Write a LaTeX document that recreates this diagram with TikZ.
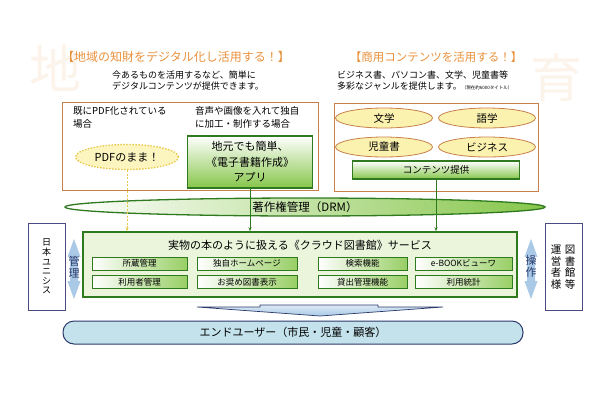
\documentclass[tikz,border=0pt]{standalone}
\usepackage{fontspec}
\setmainfont{Noto Sans CJK JP}
\usepackage{xcolor}
\usepackage{tikz}
\usetikzlibrary{arrows.meta, positioning, shapes.geometric, shapes.arrows}
\definecolor{titleorange}{HTML}{E8913C}
\definecolor{boxframe}{HTML}{C8804A}
\definecolor{darkgreen}{HTML}{2F7A1F}
\definecolor{midgreen}{HTML}{86C64A}
\definecolor{palegreen}{HTML}{EAF5DC}
\definecolor{genrefill}{HTML}{FBF2B0}
\definecolor{pdfline}{HTML}{E8C84A}
\definecolor{userfill}{HTML}{C4E2EC}
\definecolor{navy}{HTML}{2B3A6B}
\definecolor{sideframe}{HTML}{4B4B82}
\definecolor{flowblue}{HTML}{A9C9E6}

\begin{document}
\begin{tikzpicture}[x=1pt, y=-1pt,
    every node/.style={font=\fontsize{9}{10}\selectfont},
    areabox/.style={
        rectangle, draw=boxframe, line width=1pt, inner sep=0pt,
    },
    genre/.style={
        ellipse, draw=boxframe, line width=0.8pt, fill=genrefill,
        minimum width=97pt, minimum height=20pt, inner sep=0pt,
        font=\fontsize{10.5}{12}\selectfont,
    },
    greenbox/.style={
        rectangle, draw=darkgreen, line width=1.3pt,
        top color=white, bottom color=midgreen, inner sep=0pt,
    },
    funcbtn/.style={
        rectangle, draw=darkgreen, line width=1pt,
        left color=white, right color=midgreen!85,
        minimum height=13pt, inner sep=0pt,
        font=\fontsize{8.5}{9}\selectfont,
    },
    feed/.style={
        draw=darkgreen, line width=0.8pt,
        -{Stealth[length=4pt, width=3pt]},
    },
    sidebox/.style={
        rectangle, draw=sideframe, line width=0.8pt,
        minimum width=37pt, minimum height=87pt,
    },
    vtext/.style={
        align=center, inner sep=0pt,
    },
    twoway/.style={
        double arrow, rotate=90, fill=flowblue, draw=none,
        minimum height=60pt, minimum width=13pt, inner xsep=0pt, inner ysep=3pt,
        double arrow head extend=2pt, double arrow tip angle=40,
    },
]
\useasboundingbox (0,0) rectangle (610,400);

% ── Faint backdrop letters ─────────────────────────────────────────────
\node[text=titleorange!11, font=\fontsize{52}{52}\selectfont] (wmleft) at (55,68) {地};
\node[text=titleorange!11, font=\fontsize{52}{52}\selectfont] (wmright) at (556,78) {育};

% ── Headings ───────────────────────────────────────────────────────────
\node[text=titleorange, font=\fontsize{12}{14}\selectfont] (localtitle) at (176,57)
    {【地域の知財をデジタル化し活用する！】};
\node[align=left, anchor=west, inner sep=0pt] (localnote) at (112,81)
    {今あるものを活用するなど、簡単に\\[1pt]デジタルコンテンツが提供できます。};
\node[text=titleorange, font=\fontsize{11.5}{14}\selectfont] (bizttitle) at (436,57)
    {【商用コンテンツを活用する！】};
\node[align=left, anchor=west, inner sep=0pt] (biznote) at (337,81)
    {ビジネス書、パソコン書、文学、児童書等\\[1pt]多彩なジャンルを提供します。{\fontsize{4.5}{5}\selectfont （現在約6000タイトル）}};

% ── Local content area ─────────────────────────────────────────────────
\node[areabox, minimum width=256pt, minimum height=88pt] (localarea) at (190,146) {};
\node[anchor=north west, align=left, inner sep=0pt, font=\fontsize{9.5}{13}\selectfont]
    (pdfcase) at (73,106) {既にPDF化されている\\場合};
\node[anchor=north west, align=left, inner sep=0pt, font=\fontsize{9.5}{13}\selectfont]
    (makecase) at (195,106) {音声や画像を入れて独自\\に加工・制作する場合};
\node[ellipse, draw=pdfline, line width=1.3pt, dash pattern=on 1.5pt off 1.5pt,
    fill=genrefill!80, minimum width=103pt, minimum height=25pt, inner sep=0pt,
    font=\fontsize{11}{12}\selectfont] (pdfasis) at (127,157) {PDFのまま！};
\node[greenbox, minimum width=125pt, minimum height=52pt, align=center,
    font=\fontsize{11}{15.5}\selectfont] (appbox) at (250,162)
    {地元でも簡単、\\《電子書籍作成》\\アプリ};

% ── Commercial content area ────────────────────────────────────────────
\node[areabox, minimum width=204pt, minimum height=88pt] (bizarea) at (436,147) {};
\node[genre] (literature) at (384,118) {文学};
\node[genre] (language) at (487,118) {語学};
\node[genre] (children) at (384,147) {児童書};
\node[genre] (business) at (487,147) {ビジネス};
\node[greenbox, minimum width=167pt, minimum height=18pt,
    font=\fontsize{9.5}{11}\selectfont] (supply) at (436,170) {コンテンツ提供};

% ── DRM band ───────────────────────────────────────────────────────────
\node[ellipse, draw=darkgreen, line width=1.3pt, left color=white, right color=midgreen,
    minimum width=480pt, minimum height=18pt, inner sep=0pt,
    font=\fontsize{11.5}{12}\selectfont] (drm) at (305,207) {著作権管理（DRM）};

% ── Cloud library service ──────────────────────────────────────────────
\node[rectangle, draw=darkgreen, line width=1.5pt, fill=palegreen,
    minimum width=434pt, minimum height=65pt] (service) at (300,264.5) {};
\node[font=\fontsize{11}{12}\selectfont] (servicetitle) at (300,245)
    {実物の本のように扱える《クラウド図書館》サービス};
\node[funcbtn, minimum width=95pt] (holdings) at (139.5,263.5) {所蔵管理};
\node[funcbtn, minimum width=100pt] (homepage) at (247,263.5) {独自ホームページ};
\node[funcbtn, minimum width=89pt] (search) at (362.5,263.5) {検索機能};
\node[funcbtn, minimum width=97pt] (viewer) at (463.5,263.5) {e-BOOKビューワ};
\node[funcbtn, minimum width=95pt] (users) at (139.5,282) {利用者管理};
\node[funcbtn, minimum width=100pt] (recommend) at (247,282) {お奨め図書表示};
\node[funcbtn, minimum width=89pt] (lending) at (362.5,282) {貸出管理機能};
\node[funcbtn, minimum width=97pt] (stats) at (463.5,282) {利用統計};

% ── Feeds into the service ─────────────────────────────────────────────
\draw[feed, draw=pdfline, dash pattern=on 2pt off 1.5pt] (pdfasis.south)
    -- (pdfasis.south |- service.north);
\draw[feed] (appbox.south) -- (appbox.south |- service.north);
\draw[feed] (supply.south) -- (supply.south |- service.north);

% ── Side parties ───────────────────────────────────────────────────────
\node[sidebox] (unisys) at (46.5,266.5) {};
\node[vtext, font=\fontsize{9}{9.6}\selectfont] (unisystext) at (unisys.center)
    {日\\本\\ユ\\ニ\\シ\\ス};
\node[twoway] (managearrow) at (74,269) {};
\node[vtext, text=navy, font=\fontsize{11}{12}\selectfont] (manage) at (74,267) {管\\理};

\node[sidebox] (operator) at (563.5,266.5) {};
\node[vtext, font=\fontsize{10.5}{11.5}\selectfont] (operatorright) at (570,267) {図\\書\\館\\等};
\node[vtext, font=\fontsize{10.5}{11.5}\selectfont] (operatorleft) at (556,267) {運\\営\\者\\様};
\node[twoway] (operatearrow) at (531,269) {};
\node[vtext, text=navy, font=\fontsize{11}{12}\selectfont] (operate) at (531,266) {操\\作};

% ── End users ──────────────────────────────────────────────────────────
\draw[navy, line width=0.7pt, top color=flowblue!40, bottom color=flowblue]
    (260,305) -- (378,305) -- (378,307) -- (443,307) -- (320,316)
    -- (197,307) -- (260,307) -- cycle;
\node[rectangle, rounded corners=11pt, draw=navy, line width=1pt, fill=userfill,
    minimum width=460pt, minimum height=23pt,
    font=\fontsize{11}{12}\selectfont] (enduser) at (293,332.5)
    {エンドユーザー（市民・児童・顧客）};

\end{tikzpicture}
\end{document}
